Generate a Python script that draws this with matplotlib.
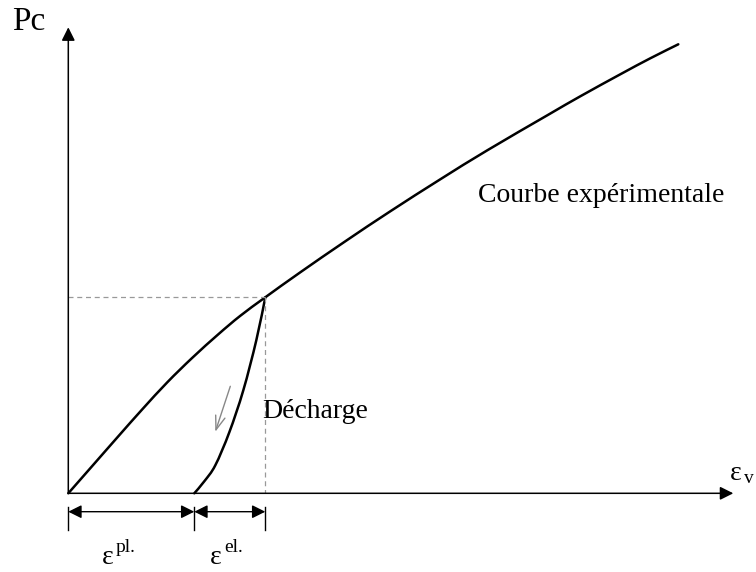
import matplotlib.pyplot as plt
from matplotlib.path import Path
from matplotlib.patches import PathPatch

plt.rcParams['font.family'] = ['Liberation Serif', 'DejaVu Serif']

# loading curve (experimental), volumetric strain vs confining pressure
eps_load = [0.0, 0.25, 0.50, 0.74, 0.99, 1.24, 1.50, 1.72, 1.97,
            2.32, 2.77, 3.22, 3.72, 4.19, 4.79, 5.12, 5.52, 5.82, 6.10]
pc_load = [0.0, 0.285, 0.57, 0.84, 1.11, 1.355, 1.59, 1.775, 1.96,
           2.21, 2.52, 2.82, 3.14, 3.43, 3.78, 3.97, 4.19, 4.35, 4.49]

# unloading branch from the peak back to zero pressure
eps_unload = [1.97, 1.88, 1.75, 1.61, 1.47, 1.36, 1.26]
pc_unload = [1.96, 1.53, 1.03, 0.61, 0.28, 0.12, 0.0]

eps_peak, pc_peak = eps_load[8], pc_load[8]
eps_pl = eps_unload[-1]


def smooth_path(xs, ys):
    # Catmull-Rom through the points, written as cubic Bezier segments
    pts = list(zip(xs, ys))
    verts = [pts[0]]
    codes = [Path.MOVETO]
    n = len(pts)
    for i in range(n - 1):
        p0 = pts[max(i - 1, 0)]
        p1 = pts[i]
        p2 = pts[i + 1]
        p3 = pts[min(i + 2, n - 1)]
        c1 = (p1[0] + (p2[0] - p0[0]) / 6, p1[1] + (p2[1] - p0[1]) / 6)
        c2 = (p2[0] - (p3[0] - p1[0]) / 6, p2[1] - (p3[1] - p1[1]) / 6)
        verts += [c1, c2, p2]
        codes += [Path.CURVE4] * 3
    return Path(verts, codes)


fig = plt.figure(figsize=(7.56, 5.72), dpi=100)
ax = fig.add_axes([0, 0, 1, 1])
ax.set_xlim(-0.683, 6.877)
ax.set_ylim(-0.787, 4.933)
ax.axis('off')

# axes with arrow heads
axis_arrow = dict(arrowstyle='-|>,head_length=0.8,head_width=0.4', color='black',
                  lw=1.1, shrinkA=0, shrinkB=0)
ax.annotate('', xy=(0, 4.66), xytext=(0, 0), arrowprops=axis_arrow)
ax.annotate('', xy=(6.65, 0), xytext=(0, 0), arrowprops=axis_arrow)

for xs, ys in [(eps_load, pc_load), (eps_unload, pc_unload)]:
    ax.add_patch(PathPatch(smooth_path(xs, ys), fill=False, edgecolor='black',
                           lw=1.8, capstyle='round', joinstyle='round'))

# guide lines from the unloading point
dash = dict(color='#999999', lw=0.9, linestyle=(0, (4, 3)))
ax.plot([0, eps_peak], [pc_peak, pc_peak], **dash)
ax.plot([eps_peak, eps_peak], [pc_peak, 0], **dash)

# direction of unloading
ax.annotate('', xy=(1.47, 0.615), xytext=(1.62, 1.07),
            arrowprops=dict(arrowstyle='->,head_length=1.0,head_width=0.35',
                            color='#888888', lw=1.0, shrinkA=0, shrinkB=0))

# plastic / elastic strain dimensions
y_dim = -0.184
for xv in [0, eps_pl, eps_peak]:
    ax.plot([xv, xv], [-0.134, -0.367], color='black', lw=1.0)
dim_arrow = dict(arrowstyle='<|-|>,head_length=0.8,head_width=0.4', color='black',
                 lw=1.0, shrinkA=0, shrinkB=0)
ax.annotate('', xy=(eps_pl, y_dim), xytext=(0, y_dim), arrowprops=dim_arrow)
ax.annotate('', xy=(eps_peak, y_dim), xytext=(eps_pl, y_dim), arrowprops=dim_arrow)

ax.text(0.334, -0.71, 'ε', fontsize=20, va='baseline')
ax.text(0.475, -0.59, 'pl.', fontsize=14, va='baseline')
ax.text(1.417, -0.71, 'ε', fontsize=20, va='baseline')
ax.text(1.558, -0.59, 'el.', fontsize=14, va='baseline')
ax.text(6.62, 0.133, 'ε', fontsize=20, va='baseline')
ax.text(6.76, 0.10, 'v', fontsize=14, va='baseline')
ax.text(-0.563, 4.633, 'Pc', fontsize=24, va='baseline')
ax.text(4.097, 2.913, 'Courbe expérimentale', fontsize=20, va='baseline')
ax.text(1.937, 0.753, 'Décharge', fontsize=20, va='baseline')

fig.savefig('out.png', dpi=100)
